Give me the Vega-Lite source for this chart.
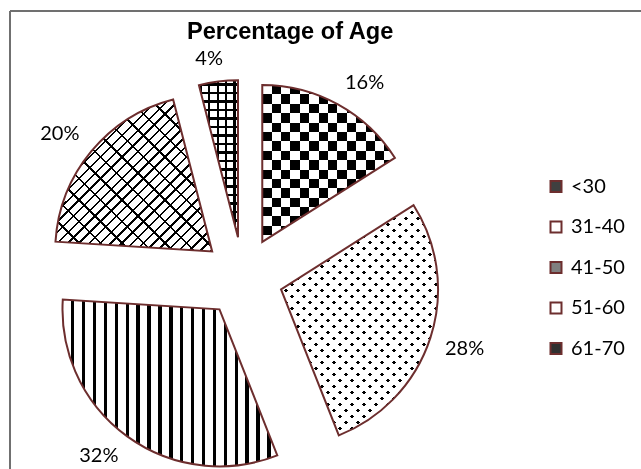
{
"$schema":"https://vega.github.io/schema/vega-lite/v6.json",
"padding":{"left":9,"top":10,"right":0,"bottom":0},
"background":"white",
"bounds":"flush",
"title":{"text":"Percentage of Age","font":"Liberation Sans","fontSize":23.6,"fontWeight":"bold","color":"#000","anchor":"start","frame":"group","dx":177,"offset":-53,"baseline":"alphabetic"},
"data":{"values":[
{"age":"<30","value":0.16},
{"age":"31-40","value":0.28},
{"age":"41-50","value":0.32},
{"age":"51-60","value":0.20},
{"age":"61-70","value":0.04}
]},
"spacing":0,
"hconcat":[
{"width":466,"height":532,
"view":{"stroke":"#707070","strokeWidth":2,"strokeDash":[466,998,532,0]},
"transform":[{"stack":"value","groupby":[],"as":["v0","v1"]}],
"layer":[
{"encoding":{"theta":{"field":"v0","type":"quantitative","scale":{"domain":[0,1]}},"theta2":{"field":"v1"}},
"layer":[
{"transform":[{"filter":"datum.age==='41-50'"}],
"mark":{"type":"arc","radius":157,"xOffset":{"expr":"40*sin(PI*(datum.v0+datum.v1))"},"yOffset":{"expr":"-40*cos(PI*(datum.v0+datum.v1))"},
"fill":{"gradient":"linear","x1":0,"y1":0,"x2":1,"y2":0,"stops":[
{"offset":0,"color":"#fff"},
{"offset":0.04,"color":"#fff"},{"offset":0.04,"color":"#000"},{"offset":0.0554,"color":"#000"},{"offset":0.0554,"color":"#fff"},
{"offset":0.0908,"color":"#fff"},{"offset":0.0908,"color":"#000"},{"offset":0.1062,"color":"#000"},{"offset":0.1062,"color":"#fff"},
{"offset":0.1415,"color":"#fff"},{"offset":0.1415,"color":"#000"},{"offset":0.1569,"color":"#000"},{"offset":0.1569,"color":"#fff"},
{"offset":0.1923,"color":"#fff"},{"offset":0.1923,"color":"#000"},{"offset":0.2077,"color":"#000"},{"offset":0.2077,"color":"#fff"},
{"offset":0.2430,"color":"#fff"},{"offset":0.2430,"color":"#000"},{"offset":0.2584,"color":"#000"},{"offset":0.2584,"color":"#fff"},
{"offset":0.2938,"color":"#fff"},{"offset":0.2938,"color":"#000"},{"offset":0.3092,"color":"#000"},{"offset":0.3092,"color":"#fff"},
{"offset":0.3445,"color":"#fff"},{"offset":0.3445,"color":"#000"},{"offset":0.3599,"color":"#000"},{"offset":0.3599,"color":"#fff"},
{"offset":0.3953,"color":"#fff"},{"offset":0.3953,"color":"#000"},{"offset":0.4107,"color":"#000"},{"offset":0.4107,"color":"#fff"},
{"offset":0.4460,"color":"#fff"},{"offset":0.4460,"color":"#000"},{"offset":0.4614,"color":"#000"},{"offset":0.4614,"color":"#fff"},
{"offset":0.4968,"color":"#fff"},{"offset":0.4968,"color":"#000"},{"offset":0.5122,"color":"#000"},{"offset":0.5122,"color":"#fff"},
{"offset":0.5475,"color":"#fff"},{"offset":0.5475,"color":"#000"},{"offset":0.5629,"color":"#000"},{"offset":0.5629,"color":"#fff"},
{"offset":0.5983,"color":"#fff"},{"offset":0.5983,"color":"#000"},{"offset":0.6137,"color":"#000"},{"offset":0.6137,"color":"#fff"},
{"offset":0.6490,"color":"#fff"},{"offset":0.6490,"color":"#000"},{"offset":0.6644,"color":"#000"},{"offset":0.6644,"color":"#fff"},
{"offset":0.6998,"color":"#fff"},{"offset":0.6998,"color":"#000"},{"offset":0.7152,"color":"#000"},{"offset":0.7152,"color":"#fff"},
{"offset":0.7505,"color":"#fff"},{"offset":0.7505,"color":"#000"},{"offset":0.7659,"color":"#000"},{"offset":0.7659,"color":"#fff"},
{"offset":0.8013,"color":"#fff"},{"offset":0.8013,"color":"#000"},{"offset":0.8167,"color":"#000"},{"offset":0.8167,"color":"#fff"},
{"offset":0.8520,"color":"#fff"},{"offset":0.8520,"color":"#000"},{"offset":0.8674,"color":"#000"},{"offset":0.8674,"color":"#fff"},
{"offset":0.9028,"color":"#fff"},{"offset":0.9028,"color":"#000"},{"offset":0.9182,"color":"#000"},{"offset":0.9182,"color":"#fff"},
{"offset":0.9535,"color":"#fff"},{"offset":0.9535,"color":"#000"},{"offset":0.9689,"color":"#000"},{"offset":0.9689,"color":"#fff"}
]}}},
{"transform":[{"filter":"datum.age==='61-70'"}],
"mark":{"type":"arc","radius":157,"xOffset":{"expr":"40*sin(PI*(datum.v0+datum.v1))"},"yOffset":{"expr":"-40*cos(PI*(datum.v0+datum.v1))"},
"fill":{"gradient":"linear","x1":0,"y1":0,"x2":1,"y2":0,"stops":[
{"offset":0,"color":"#fff"},
{"offset":0.026,"color":"#fff"},{"offset":0.026,"color":"#000"},{"offset":0.082,"color":"#000"},{"offset":0.082,"color":"#fff"},
{"offset":0.238,"color":"#fff"},{"offset":0.238,"color":"#000"},{"offset":0.294,"color":"#000"},{"offset":0.294,"color":"#fff"},
{"offset":0.454,"color":"#fff"},{"offset":0.454,"color":"#000"},{"offset":0.510,"color":"#000"},{"offset":0.510,"color":"#fff"},
{"offset":0.669,"color":"#fff"},{"offset":0.669,"color":"#000"},{"offset":0.725,"color":"#000"},{"offset":0.725,"color":"#fff"},
{"offset":0.885,"color":"#fff"},{"offset":0.885,"color":"#000"},{"offset":0.941,"color":"#000"},{"offset":0.941,"color":"#fff"}
]}}},
{"transform":[{"filter":"datum.age==='61-70'"}],
"mark":{"type":"arc","radius":157,"xOffset":{"expr":"40*sin(PI*(datum.v0+datum.v1))"},"yOffset":{"expr":"-40*cos(PI*(datum.v0+datum.v1))"},
"fill":{"gradient":"linear","x1":0,"y1":0,"x2":0,"y2":1,"stops":[
{"offset":0,"color":"rgba(0,0,0,0)"},
{"offset":0.0200,"color":"rgba(0,0,0,0)"},{"offset":0.0200,"color":"#000"},{"offset":0.0340,"color":"#000"},{"offset":0.0340,"color":"rgba(0,0,0,0)"},
{"offset":0.0741,"color":"rgba(0,0,0,0)"},{"offset":0.0741,"color":"#000"},{"offset":0.0881,"color":"#000"},{"offset":0.0881,"color":"rgba(0,0,0,0)"},
{"offset":0.1282,"color":"rgba(0,0,0,0)"},{"offset":0.1282,"color":"#000"},{"offset":0.1422,"color":"#000"},{"offset":0.1422,"color":"rgba(0,0,0,0)"},
{"offset":0.1823,"color":"rgba(0,0,0,0)"},{"offset":0.1823,"color":"#000"},{"offset":0.1963,"color":"#000"},{"offset":0.1963,"color":"rgba(0,0,0,0)"},
{"offset":0.2364,"color":"rgba(0,0,0,0)"},{"offset":0.2364,"color":"#000"},{"offset":0.2504,"color":"#000"},{"offset":0.2504,"color":"rgba(0,0,0,0)"},
{"offset":0.2905,"color":"rgba(0,0,0,0)"},{"offset":0.2905,"color":"#000"},{"offset":0.3045,"color":"#000"},{"offset":0.3045,"color":"rgba(0,0,0,0)"},
{"offset":0.3446,"color":"rgba(0,0,0,0)"},{"offset":0.3446,"color":"#000"},{"offset":0.3586,"color":"#000"},{"offset":0.3586,"color":"rgba(0,0,0,0)"},
{"offset":0.3987,"color":"rgba(0,0,0,0)"},{"offset":0.3987,"color":"#000"},{"offset":0.4127,"color":"#000"},{"offset":0.4127,"color":"rgba(0,0,0,0)"},
{"offset":0.4528,"color":"rgba(0,0,0,0)"},{"offset":0.4528,"color":"#000"},{"offset":0.4668,"color":"#000"},{"offset":0.4668,"color":"rgba(0,0,0,0)"},
{"offset":0.5069,"color":"rgba(0,0,0,0)"},{"offset":0.5069,"color":"#000"},{"offset":0.5209,"color":"#000"},{"offset":0.5209,"color":"rgba(0,0,0,0)"},
{"offset":0.5610,"color":"rgba(0,0,0,0)"},{"offset":0.5610,"color":"#000"},{"offset":0.5750,"color":"#000"},{"offset":0.5750,"color":"rgba(0,0,0,0)"},
{"offset":0.6151,"color":"rgba(0,0,0,0)"},{"offset":0.6151,"color":"#000"},{"offset":0.6291,"color":"#000"},{"offset":0.6291,"color":"rgba(0,0,0,0)"},
{"offset":0.6692,"color":"rgba(0,0,0,0)"},{"offset":0.6692,"color":"#000"},{"offset":0.6832,"color":"#000"},{"offset":0.6832,"color":"rgba(0,0,0,0)"},
{"offset":0.7233,"color":"rgba(0,0,0,0)"},{"offset":0.7233,"color":"#000"},{"offset":0.7373,"color":"#000"},{"offset":0.7373,"color":"rgba(0,0,0,0)"},
{"offset":0.7774,"color":"rgba(0,0,0,0)"},{"offset":0.7774,"color":"#000"},{"offset":0.7914,"color":"#000"},{"offset":0.7914,"color":"rgba(0,0,0,0)"},
{"offset":0.8315,"color":"rgba(0,0,0,0)"},{"offset":0.8315,"color":"#000"},{"offset":0.8455,"color":"#000"},{"offset":0.8455,"color":"rgba(0,0,0,0)"},
{"offset":0.8856,"color":"rgba(0,0,0,0)"},{"offset":0.8856,"color":"#000"},{"offset":0.8996,"color":"#000"},{"offset":0.8996,"color":"rgba(0,0,0,0)"},
{"offset":0.9397,"color":"rgba(0,0,0,0)"},{"offset":0.9397,"color":"#000"},{"offset":0.9537,"color":"#000"},{"offset":0.9537,"color":"rgba(0,0,0,0)"},
{"offset":0.9938,"color":"rgba(0,0,0,0)"},{"offset":0.9938,"color":"#000"}
]}}},
{"transform":[{"filter":"datum.age==='<30'"}],
"mark":{"type":"arc","radius":157,"xOffset":{"expr":"40*sin(PI*(datum.v0+datum.v1))"},"yOffset":{"expr":"-40*cos(PI*(datum.v0+datum.v1))"},
"fill":{"gradient":"linear","x1":0,"y1":0,"x2":1,"y2":0,"stops":[
{"offset":0,"color":"#000"},{"offset":0.0709,"color":"#000"},{"offset":0.0709,"color":"#fff"},
{"offset":0.1418,"color":"#fff"},{"offset":0.1418,"color":"#000"},{"offset":0.2127,"color":"#000"},{"offset":0.2127,"color":"#fff"},
{"offset":0.2836,"color":"#fff"},{"offset":0.2836,"color":"#000"},{"offset":0.3545,"color":"#000"},{"offset":0.3545,"color":"#fff"},
{"offset":0.4254,"color":"#fff"},{"offset":0.4254,"color":"#000"},{"offset":0.4963,"color":"#000"},{"offset":0.4963,"color":"#fff"},
{"offset":0.5672,"color":"#fff"},{"offset":0.5672,"color":"#000"},{"offset":0.6381,"color":"#000"},{"offset":0.6381,"color":"#fff"},
{"offset":0.7090,"color":"#fff"},{"offset":0.7090,"color":"#000"},{"offset":0.7799,"color":"#000"},{"offset":0.7799,"color":"#fff"},
{"offset":0.8508,"color":"#fff"},{"offset":0.8508,"color":"#000"},{"offset":0.9217,"color":"#000"},{"offset":0.9217,"color":"#fff"},
{"offset":0.9926,"color":"#fff"},{"offset":0.9926,"color":"#000"},{"offset":1,"color":"#000"}
]}}},
{"transform":[{"filter":"datum.age==='<30'"}],
"mark":{"type":"arc","radius":157,"blend":"difference","xOffset":{"expr":"40*sin(PI*(datum.v0+datum.v1))"},"yOffset":{"expr":"-40*cos(PI*(datum.v0+datum.v1))"},
"fill":{"gradient":"linear","x1":0,"y1":0,"x2":0,"y2":1,"stops":[
{"offset":0,"color":"#fff"},{"offset":0.0599,"color":"#fff"},{"offset":0.0599,"color":"rgba(255,255,255,0)"},
{"offset":0.1197,"color":"rgba(255,255,255,0)"},{"offset":0.1197,"color":"#fff"},{"offset":0.1796,"color":"#fff"},{"offset":0.1796,"color":"rgba(255,255,255,0)"},
{"offset":0.2394,"color":"rgba(255,255,255,0)"},{"offset":0.2394,"color":"#fff"},{"offset":0.2993,"color":"#fff"},{"offset":0.2993,"color":"rgba(255,255,255,0)"},
{"offset":0.3591,"color":"rgba(255,255,255,0)"},{"offset":0.3591,"color":"#fff"},{"offset":0.4190,"color":"#fff"},{"offset":0.4190,"color":"rgba(255,255,255,0)"},
{"offset":0.4788,"color":"rgba(255,255,255,0)"},{"offset":0.4788,"color":"#fff"},{"offset":0.5387,"color":"#fff"},{"offset":0.5387,"color":"rgba(255,255,255,0)"},
{"offset":0.5985,"color":"rgba(255,255,255,0)"},{"offset":0.5985,"color":"#fff"},{"offset":0.6584,"color":"#fff"},{"offset":0.6584,"color":"rgba(255,255,255,0)"},
{"offset":0.7182,"color":"rgba(255,255,255,0)"},{"offset":0.7182,"color":"#fff"},{"offset":0.7781,"color":"#fff"},{"offset":0.7781,"color":"rgba(255,255,255,0)"},
{"offset":0.8379,"color":"rgba(255,255,255,0)"},{"offset":0.8379,"color":"#fff"},{"offset":0.8978,"color":"#fff"},{"offset":0.8978,"color":"rgba(255,255,255,0)"},
{"offset":0.9576,"color":"rgba(255,255,255,0)"},{"offset":0.9576,"color":"#fff"},{"offset":1,"color":"#fff"}
]}}},
{"transform":[{"filter":"datum.age==='31-40'"}],
"mark":{"type":"arc","radius":157,"xOffset":{"expr":"40*sin(PI*(datum.v0+datum.v1))"},"yOffset":{"expr":"-40*cos(PI*(datum.v0+datum.v1))"},
"fill":{"gradient":"linear","x1":0,"y1":0,"x2":0.7833,"y2":1.148,"stops":[
{"offset":0,"color":"#fff"},
{"offset":0.0100,"color":"#fff"},{"offset":0.0100,"color":"#000"},{"offset":0.0203,"color":"#000"},{"offset":0.0203,"color":"#fff"},
{"offset":0.0410,"color":"#fff"},{"offset":0.0410,"color":"#000"},{"offset":0.0513,"color":"#000"},{"offset":0.0513,"color":"#fff"},
{"offset":0.0720,"color":"#fff"},{"offset":0.0720,"color":"#000"},{"offset":0.0823,"color":"#000"},{"offset":0.0823,"color":"#fff"},
{"offset":0.1030,"color":"#fff"},{"offset":0.1030,"color":"#000"},{"offset":0.1133,"color":"#000"},{"offset":0.1133,"color":"#fff"},
{"offset":0.1340,"color":"#fff"},{"offset":0.1340,"color":"#000"},{"offset":0.1443,"color":"#000"},{"offset":0.1443,"color":"#fff"},
{"offset":0.1650,"color":"#fff"},{"offset":0.1650,"color":"#000"},{"offset":0.1753,"color":"#000"},{"offset":0.1753,"color":"#fff"},
{"offset":0.1960,"color":"#fff"},{"offset":0.1960,"color":"#000"},{"offset":0.2063,"color":"#000"},{"offset":0.2063,"color":"#fff"},
{"offset":0.2270,"color":"#fff"},{"offset":0.2270,"color":"#000"},{"offset":0.2373,"color":"#000"},{"offset":0.2373,"color":"#fff"},
{"offset":0.2580,"color":"#fff"},{"offset":0.2580,"color":"#000"},{"offset":0.2683,"color":"#000"},{"offset":0.2683,"color":"#fff"},
{"offset":0.2890,"color":"#fff"},{"offset":0.2890,"color":"#000"},{"offset":0.2993,"color":"#000"},{"offset":0.2993,"color":"#fff"},
{"offset":0.3200,"color":"#fff"},{"offset":0.3200,"color":"#000"},{"offset":0.3303,"color":"#000"},{"offset":0.3303,"color":"#fff"},
{"offset":0.3510,"color":"#fff"},{"offset":0.3510,"color":"#000"},{"offset":0.3613,"color":"#000"},{"offset":0.3613,"color":"#fff"},
{"offset":0.3820,"color":"#fff"},{"offset":0.3820,"color":"#000"},{"offset":0.3923,"color":"#000"},{"offset":0.3923,"color":"#fff"},
{"offset":0.4130,"color":"#fff"},{"offset":0.4130,"color":"#000"},{"offset":0.4233,"color":"#000"},{"offset":0.4233,"color":"#fff"},
{"offset":0.4440,"color":"#fff"},{"offset":0.4440,"color":"#000"},{"offset":0.4543,"color":"#000"},{"offset":0.4543,"color":"#fff"},
{"offset":0.4750,"color":"#fff"},{"offset":0.4750,"color":"#000"},{"offset":0.4853,"color":"#000"},{"offset":0.4853,"color":"#fff"},
{"offset":0.5060,"color":"#fff"},{"offset":0.5060,"color":"#000"},{"offset":0.5163,"color":"#000"},{"offset":0.5163,"color":"#fff"},
{"offset":0.5370,"color":"#fff"},{"offset":0.5370,"color":"#000"},{"offset":0.5473,"color":"#000"},{"offset":0.5473,"color":"#fff"},
{"offset":0.5680,"color":"#fff"},{"offset":0.5680,"color":"#000"},{"offset":0.5783,"color":"#000"},{"offset":0.5783,"color":"#fff"},
{"offset":0.5990,"color":"#fff"},{"offset":0.5990,"color":"#000"},{"offset":0.6093,"color":"#000"},{"offset":0.6093,"color":"#fff"},
{"offset":0.6300,"color":"#fff"},{"offset":0.6300,"color":"#000"},{"offset":0.6403,"color":"#000"},{"offset":0.6403,"color":"#fff"},
{"offset":0.6610,"color":"#fff"},{"offset":0.6610,"color":"#000"},{"offset":0.6713,"color":"#000"},{"offset":0.6713,"color":"#fff"},
{"offset":0.6920,"color":"#fff"},{"offset":0.6920,"color":"#000"},{"offset":0.7023,"color":"#000"},{"offset":0.7023,"color":"#fff"},
{"offset":0.7230,"color":"#fff"},{"offset":0.7230,"color":"#000"},{"offset":0.7333,"color":"#000"},{"offset":0.7333,"color":"#fff"},
{"offset":0.7540,"color":"#fff"},{"offset":0.7540,"color":"#000"},{"offset":0.7643,"color":"#000"},{"offset":0.7643,"color":"#fff"},
{"offset":0.7850,"color":"#fff"},{"offset":0.7850,"color":"#000"},{"offset":0.7953,"color":"#000"},{"offset":0.7953,"color":"#fff"},
{"offset":0.8160,"color":"#fff"},{"offset":0.8160,"color":"#000"},{"offset":0.8263,"color":"#000"},{"offset":0.8263,"color":"#fff"},
{"offset":0.8470,"color":"#fff"},{"offset":0.8470,"color":"#000"},{"offset":0.8573,"color":"#000"},{"offset":0.8573,"color":"#fff"},
{"offset":0.8780,"color":"#fff"},{"offset":0.8780,"color":"#000"},{"offset":0.8883,"color":"#000"},{"offset":0.8883,"color":"#fff"},
{"offset":0.9090,"color":"#fff"},{"offset":0.9090,"color":"#000"},{"offset":0.9193,"color":"#000"},{"offset":0.9193,"color":"#fff"},
{"offset":0.9400,"color":"#fff"},{"offset":0.9400,"color":"#000"},{"offset":0.9503,"color":"#000"},{"offset":0.9503,"color":"#fff"},
{"offset":0.9710,"color":"#fff"},{"offset":0.9710,"color":"#000"},{"offset":0.9813,"color":"#000"},{"offset":0.9813,"color":"#fff"}
]}}},
{"transform":[{"filter":"datum.age==='31-40'"}],
"mark":{"type":"arc","radius":157,"xOffset":{"expr":"40*sin(PI*(datum.v0+datum.v1))"},"yOffset":{"expr":"-40*cos(PI*(datum.v0+datum.v1))"},
"fill":{"gradient":"linear","x1":0,"y1":1,"x2":0.7833,"y2":-0.148,"stops":[
{"offset":0,"color":"#fff"},
{"offset":0.0100,"color":"#fff"},{"offset":0.0100,"color":"rgba(255,255,255,0)"},{"offset":0.0203,"color":"rgba(255,255,255,0)"},{"offset":0.0203,"color":"#fff"},
{"offset":0.0410,"color":"#fff"},{"offset":0.0410,"color":"rgba(255,255,255,0)"},{"offset":0.0513,"color":"rgba(255,255,255,0)"},{"offset":0.0513,"color":"#fff"},
{"offset":0.0720,"color":"#fff"},{"offset":0.0720,"color":"rgba(255,255,255,0)"},{"offset":0.0823,"color":"rgba(255,255,255,0)"},{"offset":0.0823,"color":"#fff"},
{"offset":0.1030,"color":"#fff"},{"offset":0.1030,"color":"rgba(255,255,255,0)"},{"offset":0.1133,"color":"rgba(255,255,255,0)"},{"offset":0.1133,"color":"#fff"},
{"offset":0.1340,"color":"#fff"},{"offset":0.1340,"color":"rgba(255,255,255,0)"},{"offset":0.1443,"color":"rgba(255,255,255,0)"},{"offset":0.1443,"color":"#fff"},
{"offset":0.1650,"color":"#fff"},{"offset":0.1650,"color":"rgba(255,255,255,0)"},{"offset":0.1753,"color":"rgba(255,255,255,0)"},{"offset":0.1753,"color":"#fff"},
{"offset":0.1960,"color":"#fff"},{"offset":0.1960,"color":"rgba(255,255,255,0)"},{"offset":0.2063,"color":"rgba(255,255,255,0)"},{"offset":0.2063,"color":"#fff"},
{"offset":0.2270,"color":"#fff"},{"offset":0.2270,"color":"rgba(255,255,255,0)"},{"offset":0.2373,"color":"rgba(255,255,255,0)"},{"offset":0.2373,"color":"#fff"},
{"offset":0.2580,"color":"#fff"},{"offset":0.2580,"color":"rgba(255,255,255,0)"},{"offset":0.2683,"color":"rgba(255,255,255,0)"},{"offset":0.2683,"color":"#fff"},
{"offset":0.2890,"color":"#fff"},{"offset":0.2890,"color":"rgba(255,255,255,0)"},{"offset":0.2993,"color":"rgba(255,255,255,0)"},{"offset":0.2993,"color":"#fff"},
{"offset":0.3200,"color":"#fff"},{"offset":0.3200,"color":"rgba(255,255,255,0)"},{"offset":0.3303,"color":"rgba(255,255,255,0)"},{"offset":0.3303,"color":"#fff"},
{"offset":0.3510,"color":"#fff"},{"offset":0.3510,"color":"rgba(255,255,255,0)"},{"offset":0.3613,"color":"rgba(255,255,255,0)"},{"offset":0.3613,"color":"#fff"},
{"offset":0.3820,"color":"#fff"},{"offset":0.3820,"color":"rgba(255,255,255,0)"},{"offset":0.3923,"color":"rgba(255,255,255,0)"},{"offset":0.3923,"color":"#fff"},
{"offset":0.4130,"color":"#fff"},{"offset":0.4130,"color":"rgba(255,255,255,0)"},{"offset":0.4233,"color":"rgba(255,255,255,0)"},{"offset":0.4233,"color":"#fff"},
{"offset":0.4440,"color":"#fff"},{"offset":0.4440,"color":"rgba(255,255,255,0)"},{"offset":0.4543,"color":"rgba(255,255,255,0)"},{"offset":0.4543,"color":"#fff"},
{"offset":0.4750,"color":"#fff"},{"offset":0.4750,"color":"rgba(255,255,255,0)"},{"offset":0.4853,"color":"rgba(255,255,255,0)"},{"offset":0.4853,"color":"#fff"},
{"offset":0.5060,"color":"#fff"},{"offset":0.5060,"color":"rgba(255,255,255,0)"},{"offset":0.5163,"color":"rgba(255,255,255,0)"},{"offset":0.5163,"color":"#fff"},
{"offset":0.5370,"color":"#fff"},{"offset":0.5370,"color":"rgba(255,255,255,0)"},{"offset":0.5473,"color":"rgba(255,255,255,0)"},{"offset":0.5473,"color":"#fff"},
{"offset":0.5680,"color":"#fff"},{"offset":0.5680,"color":"rgba(255,255,255,0)"},{"offset":0.5783,"color":"rgba(255,255,255,0)"},{"offset":0.5783,"color":"#fff"},
{"offset":0.5990,"color":"#fff"},{"offset":0.5990,"color":"rgba(255,255,255,0)"},{"offset":0.6093,"color":"rgba(255,255,255,0)"},{"offset":0.6093,"color":"#fff"},
{"offset":0.6300,"color":"#fff"},{"offset":0.6300,"color":"rgba(255,255,255,0)"},{"offset":0.6403,"color":"rgba(255,255,255,0)"},{"offset":0.6403,"color":"#fff"},
{"offset":0.6610,"color":"#fff"},{"offset":0.6610,"color":"rgba(255,255,255,0)"},{"offset":0.6713,"color":"rgba(255,255,255,0)"},{"offset":0.6713,"color":"#fff"},
{"offset":0.6920,"color":"#fff"},{"offset":0.6920,"color":"rgba(255,255,255,0)"},{"offset":0.7023,"color":"rgba(255,255,255,0)"},{"offset":0.7023,"color":"#fff"},
{"offset":0.7230,"color":"#fff"},{"offset":0.7230,"color":"rgba(255,255,255,0)"},{"offset":0.7333,"color":"rgba(255,255,255,0)"},{"offset":0.7333,"color":"#fff"},
{"offset":0.7540,"color":"#fff"},{"offset":0.7540,"color":"rgba(255,255,255,0)"},{"offset":0.7643,"color":"rgba(255,255,255,0)"},{"offset":0.7643,"color":"#fff"},
{"offset":0.7850,"color":"#fff"},{"offset":0.7850,"color":"rgba(255,255,255,0)"},{"offset":0.7953,"color":"rgba(255,255,255,0)"},{"offset":0.7953,"color":"#fff"},
{"offset":0.8160,"color":"#fff"},{"offset":0.8160,"color":"rgba(255,255,255,0)"},{"offset":0.8263,"color":"rgba(255,255,255,0)"},{"offset":0.8263,"color":"#fff"},
{"offset":0.8470,"color":"#fff"},{"offset":0.8470,"color":"rgba(255,255,255,0)"},{"offset":0.8573,"color":"rgba(255,255,255,0)"},{"offset":0.8573,"color":"#fff"},
{"offset":0.8780,"color":"#fff"},{"offset":0.8780,"color":"rgba(255,255,255,0)"},{"offset":0.8883,"color":"rgba(255,255,255,0)"},{"offset":0.8883,"color":"#fff"},
{"offset":0.9090,"color":"#fff"},{"offset":0.9090,"color":"rgba(255,255,255,0)"},{"offset":0.9193,"color":"rgba(255,255,255,0)"},{"offset":0.9193,"color":"#fff"},
{"offset":0.9400,"color":"#fff"},{"offset":0.9400,"color":"rgba(255,255,255,0)"},{"offset":0.9503,"color":"rgba(255,255,255,0)"},{"offset":0.9503,"color":"#fff"},
{"offset":0.9710,"color":"#fff"},{"offset":0.9710,"color":"rgba(255,255,255,0)"},{"offset":0.9813,"color":"rgba(255,255,255,0)"},{"offset":0.9813,"color":"#fff"}
]}}},
{"transform":[{"filter":"datum.age==='51-60'"}],
"mark":{"type":"arc","radius":157,"xOffset":{"expr":"40*sin(PI*(datum.v0+datum.v1))"},"yOffset":{"expr":"-40*cos(PI*(datum.v0+datum.v1))"},
"fill":{"gradient":"linear","x1":0,"y1":0,"x2":1.0147,"y2":0.9849,"stops":[
{"offset":0,"color":"#fff"},
{"offset":0.0150,"color":"#fff"},{"offset":0.0150,"color":"#000"},{"offset":0.0230,"color":"#000"},{"offset":0.0230,"color":"#fff"},
{"offset":0.0498,"color":"#fff"},{"offset":0.0498,"color":"#000"},{"offset":0.0578,"color":"#000"},{"offset":0.0578,"color":"#fff"},
{"offset":0.0846,"color":"#fff"},{"offset":0.0846,"color":"#000"},{"offset":0.0926,"color":"#000"},{"offset":0.0926,"color":"#fff"},
{"offset":0.1194,"color":"#fff"},{"offset":0.1194,"color":"#000"},{"offset":0.1274,"color":"#000"},{"offset":0.1274,"color":"#fff"},
{"offset":0.1542,"color":"#fff"},{"offset":0.1542,"color":"#000"},{"offset":0.1622,"color":"#000"},{"offset":0.1622,"color":"#fff"},
{"offset":0.1890,"color":"#fff"},{"offset":0.1890,"color":"#000"},{"offset":0.1970,"color":"#000"},{"offset":0.1970,"color":"#fff"},
{"offset":0.2238,"color":"#fff"},{"offset":0.2238,"color":"#000"},{"offset":0.2318,"color":"#000"},{"offset":0.2318,"color":"#fff"},
{"offset":0.2586,"color":"#fff"},{"offset":0.2586,"color":"#000"},{"offset":0.2666,"color":"#000"},{"offset":0.2666,"color":"#fff"},
{"offset":0.2934,"color":"#fff"},{"offset":0.2934,"color":"#000"},{"offset":0.3014,"color":"#000"},{"offset":0.3014,"color":"#fff"},
{"offset":0.3282,"color":"#fff"},{"offset":0.3282,"color":"#000"},{"offset":0.3362,"color":"#000"},{"offset":0.3362,"color":"#fff"},
{"offset":0.3630,"color":"#fff"},{"offset":0.3630,"color":"#000"},{"offset":0.3710,"color":"#000"},{"offset":0.3710,"color":"#fff"},
{"offset":0.3978,"color":"#fff"},{"offset":0.3978,"color":"#000"},{"offset":0.4058,"color":"#000"},{"offset":0.4058,"color":"#fff"},
{"offset":0.4326,"color":"#fff"},{"offset":0.4326,"color":"#000"},{"offset":0.4406,"color":"#000"},{"offset":0.4406,"color":"#fff"},
{"offset":0.4674,"color":"#fff"},{"offset":0.4674,"color":"#000"},{"offset":0.4754,"color":"#000"},{"offset":0.4754,"color":"#fff"},
{"offset":0.5022,"color":"#fff"},{"offset":0.5022,"color":"#000"},{"offset":0.5102,"color":"#000"},{"offset":0.5102,"color":"#fff"},
{"offset":0.5370,"color":"#fff"},{"offset":0.5370,"color":"#000"},{"offset":0.5450,"color":"#000"},{"offset":0.5450,"color":"#fff"},
{"offset":0.5718,"color":"#fff"},{"offset":0.5718,"color":"#000"},{"offset":0.5798,"color":"#000"},{"offset":0.5798,"color":"#fff"},
{"offset":0.6066,"color":"#fff"},{"offset":0.6066,"color":"#000"},{"offset":0.6146,"color":"#000"},{"offset":0.6146,"color":"#fff"},
{"offset":0.6414,"color":"#fff"},{"offset":0.6414,"color":"#000"},{"offset":0.6494,"color":"#000"},{"offset":0.6494,"color":"#fff"},
{"offset":0.6762,"color":"#fff"},{"offset":0.6762,"color":"#000"},{"offset":0.6842,"color":"#000"},{"offset":0.6842,"color":"#fff"},
{"offset":0.7110,"color":"#fff"},{"offset":0.7110,"color":"#000"},{"offset":0.7190,"color":"#000"},{"offset":0.7190,"color":"#fff"},
{"offset":0.7458,"color":"#fff"},{"offset":0.7458,"color":"#000"},{"offset":0.7538,"color":"#000"},{"offset":0.7538,"color":"#fff"},
{"offset":0.7806,"color":"#fff"},{"offset":0.7806,"color":"#000"},{"offset":0.7886,"color":"#000"},{"offset":0.7886,"color":"#fff"},
{"offset":0.8154,"color":"#fff"},{"offset":0.8154,"color":"#000"},{"offset":0.8234,"color":"#000"},{"offset":0.8234,"color":"#fff"},
{"offset":0.8502,"color":"#fff"},{"offset":0.8502,"color":"#000"},{"offset":0.8582,"color":"#000"},{"offset":0.8582,"color":"#fff"},
{"offset":0.8850,"color":"#fff"},{"offset":0.8850,"color":"#000"},{"offset":0.8930,"color":"#000"},{"offset":0.8930,"color":"#fff"},
{"offset":0.9198,"color":"#fff"},{"offset":0.9198,"color":"#000"},{"offset":0.9278,"color":"#000"},{"offset":0.9278,"color":"#fff"},
{"offset":0.9546,"color":"#fff"},{"offset":0.9546,"color":"#000"},{"offset":0.9626,"color":"#000"},{"offset":0.9626,"color":"#fff"},
{"offset":0.9894,"color":"#fff"},{"offset":0.9894,"color":"#000"},{"offset":0.9974,"color":"#000"},{"offset":0.9974,"color":"#fff"}
]}}},
{"transform":[{"filter":"datum.age==='51-60'"}],
"mark":{"type":"arc","radius":157,"xOffset":{"expr":"40*sin(PI*(datum.v0+datum.v1))"},"yOffset":{"expr":"-40*cos(PI*(datum.v0+datum.v1))"},
"fill":{"gradient":"linear","x1":0,"y1":1,"x2":1.0147,"y2":0.0151,"stops":[
{"offset":0,"color":"rgba(0,0,0,0)"},
{"offset":0.0300,"color":"rgba(0,0,0,0)"},{"offset":0.0300,"color":"#000"},{"offset":0.0380,"color":"#000"},{"offset":0.0380,"color":"rgba(0,0,0,0)"},
{"offset":0.0996,"color":"rgba(0,0,0,0)"},{"offset":0.0996,"color":"#000"},{"offset":0.1076,"color":"#000"},{"offset":0.1076,"color":"rgba(0,0,0,0)"},
{"offset":0.1692,"color":"rgba(0,0,0,0)"},{"offset":0.1692,"color":"#000"},{"offset":0.1772,"color":"#000"},{"offset":0.1772,"color":"rgba(0,0,0,0)"},
{"offset":0.2388,"color":"rgba(0,0,0,0)"},{"offset":0.2388,"color":"#000"},{"offset":0.2468,"color":"#000"},{"offset":0.2468,"color":"rgba(0,0,0,0)"},
{"offset":0.3084,"color":"rgba(0,0,0,0)"},{"offset":0.3084,"color":"#000"},{"offset":0.3164,"color":"#000"},{"offset":0.3164,"color":"rgba(0,0,0,0)"},
{"offset":0.3780,"color":"rgba(0,0,0,0)"},{"offset":0.3780,"color":"#000"},{"offset":0.3860,"color":"#000"},{"offset":0.3860,"color":"rgba(0,0,0,0)"},
{"offset":0.4476,"color":"rgba(0,0,0,0)"},{"offset":0.4476,"color":"#000"},{"offset":0.4556,"color":"#000"},{"offset":0.4556,"color":"rgba(0,0,0,0)"},
{"offset":0.5172,"color":"rgba(0,0,0,0)"},{"offset":0.5172,"color":"#000"},{"offset":0.5252,"color":"#000"},{"offset":0.5252,"color":"rgba(0,0,0,0)"},
{"offset":0.5868,"color":"rgba(0,0,0,0)"},{"offset":0.5868,"color":"#000"},{"offset":0.5948,"color":"#000"},{"offset":0.5948,"color":"rgba(0,0,0,0)"},
{"offset":0.6564,"color":"rgba(0,0,0,0)"},{"offset":0.6564,"color":"#000"},{"offset":0.6644,"color":"#000"},{"offset":0.6644,"color":"rgba(0,0,0,0)"},
{"offset":0.7260,"color":"rgba(0,0,0,0)"},{"offset":0.7260,"color":"#000"},{"offset":0.7340,"color":"#000"},{"offset":0.7340,"color":"rgba(0,0,0,0)"},
{"offset":0.7956,"color":"rgba(0,0,0,0)"},{"offset":0.7956,"color":"#000"},{"offset":0.8036,"color":"#000"},{"offset":0.8036,"color":"rgba(0,0,0,0)"},
{"offset":0.8652,"color":"rgba(0,0,0,0)"},{"offset":0.8652,"color":"#000"},{"offset":0.8732,"color":"#000"},{"offset":0.8732,"color":"rgba(0,0,0,0)"},
{"offset":0.9348,"color":"rgba(0,0,0,0)"},{"offset":0.9348,"color":"#000"},{"offset":0.9428,"color":"#000"},{"offset":0.9428,"color":"rgba(0,0,0,0)"}
]}}},
{"mark":{"type":"arc","radius":157,"filled":false,"stroke":"#6d2e2e","strokeWidth":2,"xOffset":{"expr":"40*sin(PI*(datum.v0+datum.v1))"},"yOffset":{"expr":"-40*cos(PI*(datum.v0+datum.v1))"}}}
]},
{"mark":{"type":"text","radius":213,"font":"Lato","fontSize":20,"color":"#000",
"xOffset":{"expr":"19*max(-1,min(1,3*sin(PI*(datum.v0+datum.v1))))"},
"yOffset":{"expr":"-7*max(-1,min(1,3*cos(PI*(datum.v0+datum.v1))))"}},
"encoding":{"theta":{"field":"value","type":"quantitative","stack":true,"scale":{"domain":[0,1]}},"order":{"field":"v0","type":"quantitative"},"detail":{"field":"age","type":"nominal"},"text":{"field":"value","type":"quantitative","format":".0%"}}}
]},
{"width":170,"height":513,
"view":{"stroke":"#707070","strokeWidth":2,"strokeDash":[170,2000]},
"encoding":{"y":{"field":"age","type":"nominal","sort":null,"scale":{"type":"point","range":[175.5,337.5],"padding":0},"axis":null},
"x":{"datum":"k","type":"nominal","scale":{"type":"point","align":0.4706},"axis":null}},
"layer":[
{"mark":{"type":"square","size":121,"opacity":1,"stroke":"#6d2e2e","strokeWidth":2},
"encoding":{"fill":{"field":"age","type":"nominal","sort":null,"scale":{"domain":["<30","31-40","41-50","51-60","61-70"],"range":["#404040","#ffffff","#808080","#ffffff","#303030"]},"legend":null}}},
{"mark":{"type":"text","align":"left","dx":15,"font":"Lato","fontSize":20,"color":"#000"},
"encoding":{"text":{"field":"age"}}}
]}
]
}
